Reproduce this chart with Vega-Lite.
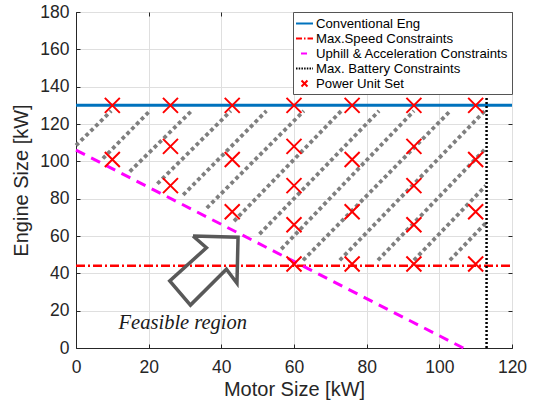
{
  "$schema": "https://vega.github.io/schema/vega-lite/v6.json",
  "width": 436,
  "height": 336,
  "autosize": {"type": "none"},
  "padding": {"left": 76, "top": 12, "right": 24, "bottom": 55},
  "background": "white",
  "config": {
    "view": {"stroke": "#262626", "strokeWidth": 1},
    "axis": {
      "labelFont": "Liberation Sans",
      "labelFontSize": 17.5,
      "labelColor": "#262626",
      "titleFont": "Liberation Sans",
      "titleFontSize": 20,
      "titleFontWeight": "normal",
      "titleColor": "#262626",
      "domainColor": "#262626",
      "tickColor": "#262626",
      "gridColor": "#dfdfdf",
      "gridWidth": 1
    }
  },
  "datasets": {
    "lines": [
      {"series": "Conventional Eng", "o": 1, "x": 0, "y": 130},
      {"series": "Conventional Eng", "o": 2, "x": 120, "y": 130},
      {"series": "Max.Speed Constraints", "o": 1, "x": 0, "y": 44},
      {"series": "Max.Speed Constraints", "o": 2, "x": 120, "y": 44},
      {"series": "Uphill & Acceleration Constraints", "o": 1, "x": 0, "y": 106},
      {"series": "Uphill & Acceleration Constraints", "o": 2, "x": 106.6, "y": 0},
      {"series": "Max. Battery Constraints", "o": 1, "x": 113, "y": 0},
      {"series": "Max. Battery Constraints", "o": 2, "x": 113, "y": 135}
    ],
    "hatch": [
      {"k": 0, "o": 1, "x": 0, "y": 108.5}, {"k": 0, "o": 2, "x": 9.7, "y": 127},
      {"k": 1, "o": 1, "x": 7.4, "y": 101.5}, {"k": 1, "o": 2, "x": 20.3, "y": 127},
      {"k": 2, "o": 1, "x": 14.8, "y": 94.5}, {"k": 2, "o": 2, "x": 31.8, "y": 127},
      {"k": 3, "o": 1, "x": 22.4, "y": 88}, {"k": 3, "o": 2, "x": 42.6, "y": 127},
      {"k": 4, "o": 1, "x": 29.5, "y": 82}, {"k": 4, "o": 2, "x": 52.4, "y": 127},
      {"k": 5, "o": 1, "x": 36, "y": 75}, {"k": 5, "o": 2, "x": 62.7, "y": 127},
      {"k": 6, "o": 1, "x": 43.5, "y": 68}, {"k": 6, "o": 2, "x": 73, "y": 127},
      {"k": 7, "o": 1, "x": 50.5, "y": 61}, {"k": 7, "o": 2, "x": 83.4, "y": 127},
      {"k": 8, "o": 1, "x": 56.5, "y": 53}, {"k": 8, "o": 2, "x": 93, "y": 127},
      {"k": 9, "o": 1, "x": 62.5, "y": 47}, {"k": 9, "o": 2, "x": 103, "y": 127},
      {"k": 10, "o": 1, "x": 72.6, "y": 47}, {"k": 10, "o": 2, "x": 112.5, "y": 127},
      {"k": 11, "o": 1, "x": 83.1, "y": 47}, {"k": 11, "o": 2, "x": 112.8, "y": 107},
      {"k": 12, "o": 1, "x": 93, "y": 47}, {"k": 12, "o": 2, "x": 112.8, "y": 87},
      {"k": 13, "o": 1, "x": 102.9, "y": 47}, {"k": 13, "o": 2, "x": 112.8, "y": 67}
    ],
    "units": [
      {"series": "Power Unit Set", "x": 10, "y": 130}, {"series": "Power Unit Set", "x": 10, "y": 101},
      {"series": "Power Unit Set", "x": 26, "y": 130}, {"series": "Power Unit Set", "x": 26, "y": 108}, {"series": "Power Unit Set", "x": 26, "y": 87},
      {"series": "Power Unit Set", "x": 43, "y": 130}, {"series": "Power Unit Set", "x": 43, "y": 101}, {"series": "Power Unit Set", "x": 43, "y": 73},
      {"series": "Power Unit Set", "x": 60, "y": 130}, {"series": "Power Unit Set", "x": 60, "y": 108}, {"series": "Power Unit Set", "x": 60, "y": 87}, {"series": "Power Unit Set", "x": 60, "y": 66}, {"series": "Power Unit Set", "x": 60, "y": 45},
      {"series": "Power Unit Set", "x": 76, "y": 130}, {"series": "Power Unit Set", "x": 76, "y": 101}, {"series": "Power Unit Set", "x": 76, "y": 73}, {"series": "Power Unit Set", "x": 76, "y": 45},
      {"series": "Power Unit Set", "x": 93, "y": 130}, {"series": "Power Unit Set", "x": 93, "y": 108}, {"series": "Power Unit Set", "x": 93, "y": 87}, {"series": "Power Unit Set", "x": 93, "y": 66}, {"series": "Power Unit Set", "x": 93, "y": 45},
      {"series": "Power Unit Set", "x": 110, "y": 130}, {"series": "Power Unit Set", "x": 110, "y": 101}, {"series": "Power Unit Set", "x": 110, "y": 73}, {"series": "Power Unit Set", "x": 110, "y": 45}
    ],
    "arrow": [
      {"o": 1, "x": 32.2, "y": 60.0},
      {"o": 2, "x": 44.6, "y": 59.3},
      {"o": 3, "x": 44.3, "y": 34.7},
      {"o": 4, "x": 41.4, "y": 42.2},
      {"o": 5, "x": 31.5, "y": 23.0},
      {"o": 6, "x": 25.8, "y": 35.9},
      {"o": 7, "x": 35.9, "y": 53.7},
      {"o": 8, "x": 32.2, "y": 60.0}
    ],
    "label": [
      {"text": "Feasible region", "x": 29.4, "y": 13.4}
    ]
  },
  "layer": [
    {
      "data": {"name": "hatch"},
      "mark": {"type": "line", "color": "#7f7f7f", "strokeWidth": 3.8, "strokeDash": [3.8, 3], "strokeCap": "butt"},
      "encoding": {
        "x": {"field": "x", "type": "quantitative", "scale": {"domain": [0, 120], "nice": false, "zero": false},
          "axis": {"orient": "bottom", "values": [0, 20, 40, 60, 80, 100, 120], "title": "Motor Size [kW]", "grid": true, "tickSize": -4, "labelPadding": 14, "titlePadding": 4, "labelFlush": false}},
        "y": {"field": "y", "type": "quantitative", "scale": {"domain": [0, 180], "nice": false, "zero": false},
          "axis": {"orient": "left", "values": [0, 20, 40, 60, 80, 100, 120, 140, 160, 180], "title": "Engine Size [kW]", "grid": true, "tickSize": -4, "labelPadding": 11, "titlePadding": 8, "labelFlush": false}},
        "detail": {"field": "k", "type": "nominal"},
        "order": {"field": "o", "type": "quantitative"}
      }
    },
    {
      "data": {"name": "lines"},
      "transform": [{"filter": "datum.series === 'Conventional Eng'"}],
      "mark": {"type": "line", "strokeWidth": 3, "strokeCap": "butt"},
      "encoding": {
        "x": {"field": "x", "type": "quantitative", "scale": {"domain": [0, 120], "nice": false, "zero": false}, "axis": null},
        "y": {"field": "y", "type": "quantitative", "scale": {"domain": [0, 180], "nice": false, "zero": false}, "axis": null},
        "order": {"field": "o", "type": "quantitative"},
        "color": {"field": "series", "type": "nominal",
          "scale": {"domain": ["Conventional Eng", "Max.Speed Constraints", "Uphill & Acceleration Constraints", "Max. Battery Constraints", "Power Unit Set"], "range": ["#0072BD", "#FF0000", "#FF00FF", "#000000", "#FF0000"]},
          "legend": {"title": null, "orient": "top-right", "offset": 0, "padding": 3, "fillColor": "white", "strokeColor": "#555555",
            "labelFont": "Liberation Sans", "labelFontSize": 13.2, "labelColor": "#000000", "labelLimit": 400, "labelOffset": 3,
            "symbolSize": 200, "rowPadding": 0, "symbolType": "stroke",
            "encode": {"symbols": {"update": {
              "shape": {"signal": "datum.value === 'Power Unit Set' ? 'M-0.42,-0.42L0.42,0.42M-0.42,0.42L0.42,-0.42' : 'M-1.2,0H1.2'"},
              "stroke": {"signal": "scale('color', datum.value)"},
              "fill": {"value": "transparent"},
              "opacity": {"value": 1},
              "strokeWidth": {"value": 2},
              "strokeDash": {"signal": "datum.value === 'Max.Speed Constraints' ? [6, 2, 1.5, 2] : datum.value === 'Uphill & Acceleration Constraints' ? [0, 5, 6, 10] : datum.value === 'Max. Battery Constraints' ? [1.5, 1.2] : [1000, 0]"}
            }}}}
        }
      }
    },
    {
      "data": {"name": "lines"},
      "transform": [{"filter": "datum.series === 'Max.Speed Constraints'"}],
      "mark": {"type": "line", "strokeWidth": 2.5, "strokeDash": [9, 3, 2, 3], "strokeCap": "butt"},
      "encoding": {
        "x": {"field": "x", "type": "quantitative", "scale": {"domain": [0, 120], "nice": false, "zero": false}, "axis": null},
        "y": {"field": "y", "type": "quantitative", "scale": {"domain": [0, 180], "nice": false, "zero": false}, "axis": null},
        "order": {"field": "o", "type": "quantitative"},
        "color": {"field": "series", "type": "nominal"}
      }
    },
    {
      "data": {"name": "lines"},
      "transform": [{"filter": "datum.series === 'Uphill & Acceleration Constraints'"}],
      "mark": {"type": "line", "strokeWidth": 3, "strokeDash": [10, 7], "strokeCap": "butt"},
      "encoding": {
        "x": {"field": "x", "type": "quantitative", "scale": {"domain": [0, 120], "nice": false, "zero": false}, "axis": null},
        "y": {"field": "y", "type": "quantitative", "scale": {"domain": [0, 180], "nice": false, "zero": false}, "axis": null},
        "order": {"field": "o", "type": "quantitative"},
        "color": {"field": "series", "type": "nominal"}
      }
    },
    {
      "data": {"name": "lines"},
      "transform": [{"filter": "datum.series === 'Max. Battery Constraints'"}],
      "mark": {"type": "line", "strokeWidth": 2.5, "strokeDash": [2, 2], "strokeCap": "butt"},
      "encoding": {
        "x": {"field": "x", "type": "quantitative", "scale": {"domain": [0, 120], "nice": false, "zero": false}, "axis": null},
        "y": {"field": "y", "type": "quantitative", "scale": {"domain": [0, 180], "nice": false, "zero": false}, "axis": null},
        "order": {"field": "o", "type": "quantitative"},
        "color": {"field": "series", "type": "nominal"}
      }
    },
    {
      "data": {"name": "units"},
      "mark": {"type": "point", "shape": "M-1,-1L1,1M-1,1L1,-1", "size": 225, "filled": false, "strokeWidth": 2, "opacity": 1},
      "encoding": {
        "x": {"field": "x", "type": "quantitative", "scale": {"domain": [0, 120], "nice": false, "zero": false}, "axis": null},
        "y": {"field": "y", "type": "quantitative", "scale": {"domain": [0, 180], "nice": false, "zero": false}, "axis": null},
        "color": {"field": "series", "type": "nominal"}
      }
    },
    {
      "data": {"name": "arrow"},
      "mark": {"type": "line", "color": "#595959", "strokeWidth": 3.5, "strokeJoin": "miter"},
      "encoding": {
        "x": {"field": "x", "type": "quantitative", "scale": {"domain": [0, 120], "nice": false, "zero": false}, "axis": null},
        "y": {"field": "y", "type": "quantitative", "scale": {"domain": [0, 180], "nice": false, "zero": false}, "axis": null},
        "order": {"field": "o", "type": "quantitative"}
      }
    },
    {
      "data": {"name": "label"},
      "mark": {"type": "text", "font": "Liberation Serif", "fontStyle": "italic", "fontSize": 20.5, "color": "#1a1a1a"},
      "encoding": {
        "x": {"field": "x", "type": "quantitative", "scale": {"domain": [0, 120], "nice": false, "zero": false},
          "axis": {"orient": "top", "values": [0, 20, 40, 60, 80, 100, 120], "labels": false, "title": null, "grid": false, "tickSize": -4, "domain": false}},
        "y": {"field": "y", "type": "quantitative", "scale": {"domain": [0, 180], "nice": false, "zero": false},
          "axis": {"orient": "right", "values": [0, 20, 40, 60, 80, 100, 120, 140, 160, 180], "labels": false, "title": null, "grid": false, "tickSize": -4, "domain": false}},
        "text": {"field": "text"}
      }
    }
  ],
  "resolve": {"axis": {"x": "independent", "y": "independent"}}
}
